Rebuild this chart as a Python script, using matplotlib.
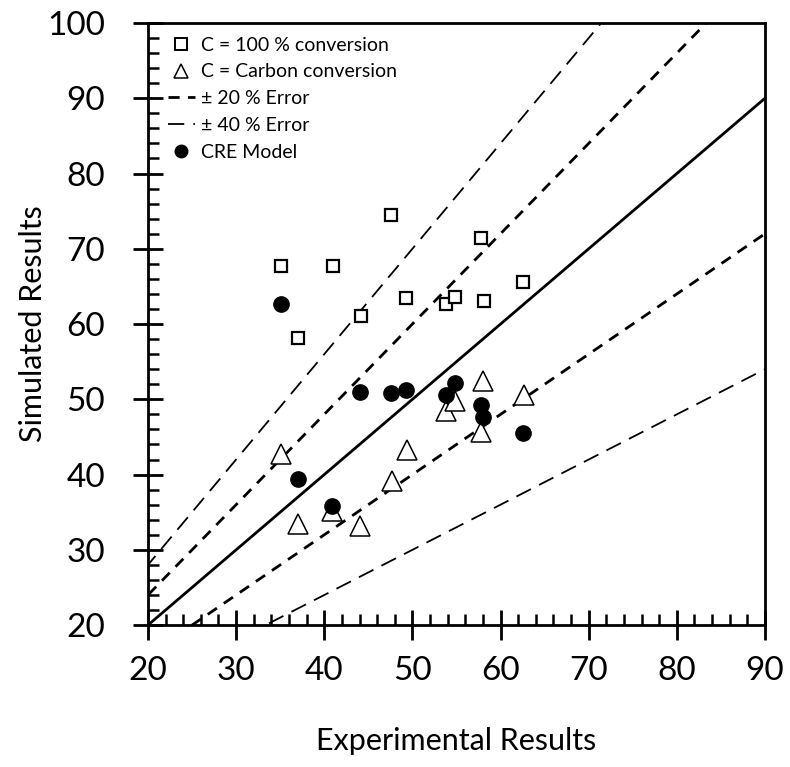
import numpy as np
import matplotlib.pyplot as plt
from matplotlib.lines import Line2D
from matplotlib.ticker import MultipleLocator

plt.rcParams['font.family'] = ['Lato', 'DejaVu Sans']

# C = 100 % conversion
x_sq = [35.1, 37.0, 41.0, 44.2, 47.6, 49.3, 53.8, 54.8, 57.8, 58.1, 62.6]
y_sq = [67.7, 58.2, 67.7, 61.1, 74.5, 63.4, 62.6, 63.6, 71.5, 63.1, 65.6]

# C = Carbon conversion
x_tri = [35.1, 37.0, 40.9, 44.1, 47.7, 49.4, 53.8, 54.8, 58.0, 57.8, 62.7]
y_tri = [42.8, 33.4, 35.2, 33.2, 39.2, 43.3, 48.5, 49.8, 52.5, 45.6, 50.6]

# CRE Model
x_cre = [35.1, 37.0, 40.9, 44.1, 47.6, 49.3, 53.8, 54.8, 57.8, 58.0, 62.6]
y_cre = [62.7, 39.4, 35.8, 51.0, 50.9, 51.2, 50.6, 52.2, 49.3, 47.7, 45.5]

fig = plt.figure(figsize=(7.9, 7.67), dpi=100)
ax = fig.add_axes([0.1873, 0.185, 0.781, 0.785])

xs = np.array([0, 100])
ax.plot(xs, xs, color='black', lw=2.0)
ax.plot(xs, 1.2 * xs, color='black', lw=2.0, dashes=(4, 3))
ax.plot(xs, 0.8 * xs, color='black', lw=2.0, dashes=(4, 3))
ax.plot(xs, 1.4 * xs, color='black', lw=1.3, dashes=(9, 5))
ax.plot(xs, 0.6 * xs, color='black', lw=1.3, dashes=(9, 5))

ax.plot(x_sq, y_sq, 's', ms=9, mfc='white', mec='black', mew=1.6)
ax.plot(x_tri, y_tri, '^', ms=14, mfc='white', mec='black', mew=1.1)
ax.plot(x_cre, y_cre, 'o', ms=11, color='black')

ax.set_xlim(20, 90)
ax.set_ylim(20, 100)
ax.xaxis.set_major_locator(MultipleLocator(10))
ax.yaxis.set_major_locator(MultipleLocator(10))
ax.xaxis.set_minor_locator(MultipleLocator(2))
ax.yaxis.set_minor_locator(MultipleLocator(2))
ax.tick_params(which='major', direction='inout', length=22, width=2,
               labelsize=24)
ax.tick_params(axis='x', which='major', pad=11)
ax.tick_params(axis='y', which='major', pad=20)
ax.tick_params(which='minor', direction='in', length=8, width=1.8)
for s in ax.spines.values():
    s.set_linewidth(2)

ax.set_xlabel('Experimental Results', fontsize=22, labelpad=30)
ax.set_ylabel('Simulated Results', fontsize=22, labelpad=0)

# legend entries (smaller symbols than in the plot area)
handles = [
    Line2D([], [], ls='none', marker='s', ms=8, mfc='white', mec='black', mew=1.4),
    Line2D([], [], ls='none', marker='^', ms=10, mfc='white', mec='black', mew=1.1),
    Line2D([], [], color='black', lw=2.0, dashes=(4, 3)),
    Line2D([], [], color='black', lw=1.3, dashes=(9, 5)),
    Line2D([], [], ls='none', marker='o', ms=9, color='black'),
]
labels = ['C = 100 % conversion', 'C = Carbon conversion', '± 20 % Error',
          '± 40 % Error', 'CRE Model']
ax.legend(handles, labels, loc='upper left', frameon=False, fontsize=14,
          handlelength=1.4, handletextpad=0.3, labelspacing=0.5,
          borderaxespad=0.3, bbox_to_anchor=(0.01, 1.0))

fig.savefig('out.png', dpi=100)
